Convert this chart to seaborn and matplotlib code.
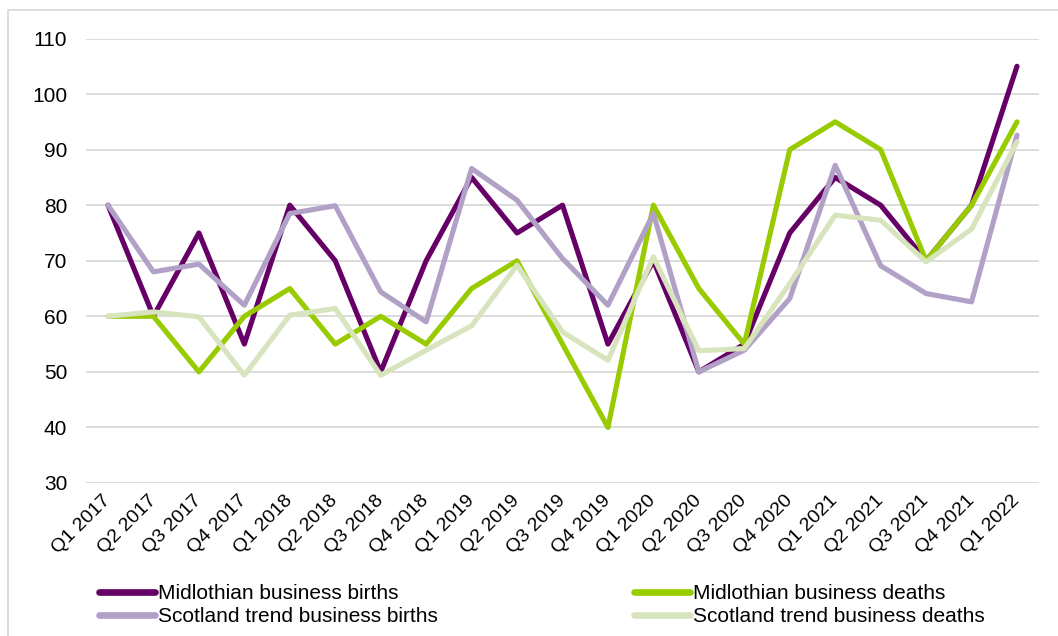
import numpy as np
import pandas as pd
import matplotlib
matplotlib.use("Agg")
import matplotlib.pyplot as plt
import seaborn as sns
from matplotlib.patches import Rectangle

quarters = ["Q1 2017", "Q2 2017", "Q3 2017", "Q4 2017", "Q1 2018", "Q2 2018", "Q3 2018",
            "Q4 2018", "Q1 2019", "Q2 2019", "Q3 2019", "Q4 2019", "Q1 2020", "Q2 2020",
            "Q3 2020", "Q4 2020", "Q1 2021", "Q2 2021", "Q3 2021", "Q4 2021", "Q1 2022"]
midlothian_births = [80, 60, 75, 55, 80, 70, 50, 70, 85, 75, 80, 55, 70, 50, 55, 75, 85, 80, 70, 80, 105]
midlothian_deaths = [60, 60, 50, 60, 65, 55, 60, 55, 65, 70, 55, 40, 80, 65, 55, 90, 95, 90, 70, 80, 95]
scotland_births = [80, 68.0, 69.4, 62.0, 78.5, 79.9, 64.4, 59.0, 86.6, 80.9, 70.4, 62.0, 78.5, 50.0,
                   53.9, 63.2, 87.2, 69.1, 64.1, 62.6, 92.6]
scotland_deaths = [60, 60.8, 59.9, 49.4, 60.2, 61.4, 49.4, 53.9, 58.3, 69.2, 57.2, 52.1, 70.7, 53.8,
                   54.2, 65.9, 78.2, 77.3, 69.8, 75.7, 91.4]
series_names = ["Midlothian business births", "Midlothian business deaths",
                "Scotland trend business births", "Scotland trend business deaths"]
y_ticks = [30, 40, 50, 60, 70, 80, 90, 100, 110]

colors = {"Midlothian business births": "#660066",
          "Midlothian business deaths": "#99CC00",
          "Scotland trend business births": "#B2A1C7",
          "Scotland trend business deaths": "#D7E4BD"}

values = [midlothian_births, midlothian_deaths, scotland_births, scotland_deaths]
rows = []
for name, vals in zip(series_names, values):
    for i, (q, v) in enumerate(zip(quarters, vals)):
        rows.append({"idx": i, "quarter": q, "series": name, "value": v})
df = pd.DataFrame(rows)

sns.set_theme(style="white")
plt.rcParams["font.family"] = ["Liberation Sans", "DejaVu Sans"]

fig = plt.figure(figsize=(10.58, 6.36), dpi=100)
ax = fig.add_axes([86 / 1058, 1 - 483 / 636, (1039 - 86) / 1058, (483 - 38.5) / 636])

sns.lineplot(data=df, x="idx", y="value", hue="series", hue_order=series_names,
             palette=colors, linewidth=3.7, ax=ax, legend=False, sort=False)

ax.set_ylim(30, 110)
ax.set_yticks(y_ticks)
ax.set_xlim(-0.484, 20.484)
ax.set_xticks(range(len(quarters)))
ax.set_xticklabels(quarters, rotation=45, ha="right", va="center", rotation_mode="anchor",
                   fontsize=14, color="black")
ax.tick_params(axis="x", length=0, pad=11)
ax.tick_params(axis="y", length=0, pad=13.5, labelsize=15, labelcolor="black")
ax.yaxis.grid(True, color="#D9D9D9", linewidth=1.3)
ax.xaxis.grid(False)
for s in ax.spines.values():
    s.set_visible(False)
ax.set_xlabel("")
ax.set_ylabel("")

# outer chart frame
fig.patches.append(Rectangle((8 / 1058, -0.1), 1.2, 1 - 10 / 636 + 0.1, transform=fig.transFigure,
                             fill=False, edgecolor="#D9D9D9", linewidth=1.3))

handles = {}
for name in series_names:
    handles[name] = plt.Line2D([], [], color=colors[name], linewidth=4.8)

leg_kw = dict(frameon=False, fontsize=15, handlelength=2.7, handletextpad=0.12,
              labelspacing=0.2, borderaxespad=0, borderpad=0, loc="upper left",
              labelcolor="black")
leg1 = fig.legend([handles[series_names[0]], handles[series_names[2]]],
                  [series_names[0], series_names[2]],
                  bbox_to_anchor=(99 / 1058, 1 - 584 / 636), **leg_kw)
leg2 = fig.legend([handles[series_names[1]], handles[series_names[3]]],
                  [series_names[1], series_names[3]],
                  bbox_to_anchor=(634 / 1058, 1 - 584 / 636), **leg_kw)

fig.savefig("out.png", dpi=100)
